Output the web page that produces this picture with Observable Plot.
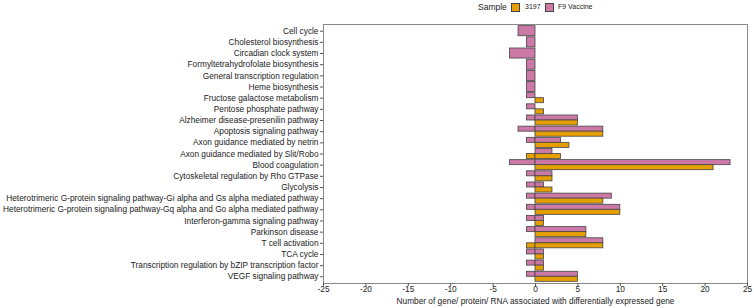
<!DOCTYPE html>
<html>
<head>
<meta charset="utf-8">
<script src="https://cdn.jsdelivr.net/npm/d3@7"></script>
<script src="https://cdn.jsdelivr.net/npm/@observablehq/plot@0.6"></script>
<style>
  html, body { margin: 0; padding: 0; background: #fff; }
  body { font-family: "Liberation Sans", Arial, sans-serif; color: #222; width: 754px; }
  #legend { position: relative; height: 20px; width: 754px; }
  #legend span { position: absolute; white-space: nowrap; }
  #legend .sw { width: 7px; height: 7px; border: 1px solid #444; top: 3px; }
</style>
</head>
<body>
<div id="legend"></div>
<div id="chart"></div>
<script>
// Pathways, top to bottom
const pathways = [
  "Cell cycle",
  "Cholesterol biosynthesis",
  "Circadian clock system",
  "Formyltetrahydrofolate biosynthesis",
  "General transcription regulation",
  "Heme biosynthesis",
  "Fructose galactose metabolism",
  "Pentose phosphate pathway",
  "Alzheimer disease-presenilin pathway",
  "Apoptosis signaling pathway",
  "Axon guidance mediated by netrin",
  "Axon guidance mediated by Slit/Robo",
  "Blood coagulation",
  "Cytoskeletal regulation by Rho GTPase",
  "Glycolysis",
  "Heterotrimeric G-protein signaling pathway-Gi alpha and Gs alpha mediated pathway",
  "Heterotrimeric G-protein signaling pathway-Gq alpha and Go alpha mediated pathway",
  "Interferon-gamma signaling pathway",
  "Parkinson disease",
  "T cell activation",
  "TCA cycle",
  "Transcription regulation by bZIP transcription factor",
  "VEGF signaling pathway"
];

// Gene counts per pathway: negative = down, positive = up
const f9Down    = [-2, -1, -3, -1, -1, -1, -1, -1, -1, -2, -1,  0, -3, -1, -1, -1, -1, -1, -1,  0, -1, -1, -1];
const f9Up      = [ 0,  0,  0,  0,  0,  0,  0,  0,  5,  8,  3,  2, 23,  2,  1,  9, 10,  1,  6,  8,  1,  1,  5];
const s3197Down = [ 0,  0,  0,  0,  0,  0,  0,  0,  0,  0,  0, -1,  0,  0,  0,  0,  0,  0,  0, -1,  0,  0,  0];
const s3197Up   = [ 0,  0,  0,  0,  0,  0,  1,  1,  5,  8,  4,  3, 21,  2,  2,  8, 10,  1,  6,  8,  1,  1,  5];

const samples = ["3197", "F9 Vaccine"];
const sampleColors = ["#E69F00", "#CC79A7"];
const xTicks = [-25, -20, -15, -10, -5, 0, 5, 10, 15, 20, 25];

// Build bar rows; dodge the two samples only when both occur in a pathway
const rows = [];
pathways.forEach((p, i) => {
  const f9 = [f9Down[i], f9Up[i]].filter(v => v !== 0);
  const s = [s3197Down[i], s3197Up[i]].filter(v => v !== 0);
  const both = f9.length > 0 && s.length > 0;
  const half = 0.45;
  f9.forEach(v => rows.push({i, sample: "F9 Vaccine", v, y1: i - half, y2: both ? i : i + half}));
  s.forEach(v => rows.push({i, sample: "3197", v, y1: both ? i : i - half, y2: i + half}));
});

// Legend
const legend = document.getElementById("legend");
legend.innerHTML = `
  <span style="left:478px;top:2px;font-size:8.5px;">Sample</span>
  <span class="sw" style="left:511px;background:${sampleColors[0]}"></span>
  <span style="left:525px;top:3px;font-size:7px;">${samples[0]}</span>
  <span class="sw" style="left:545px;background:${sampleColors[1]}"></span>
  <span style="left:558px;top:3px;font-size:7px;">${samples[1]}</span>`;

const chart = Plot.plot({
  width: 754,
  height: 288,
  marginLeft: 323,
  marginRight: 7,
  marginTop: 4,
  marginBottom: 25,
  style: {fontFamily: "Liberation Sans, Arial, sans-serif", fontSize: "8.3px", color: "#222"},
  x: {domain: [-25, 25]},
  y: {domain: [-0.6, pathways.length - 0.4], reverse: true},
  color: {domain: samples, range: sampleColors},
  marks: [
    Plot.rect(rows, {
      x1: 0, x2: "v", y1: "y1", y2: "y2",
      fill: "sample", stroke: "#444", strokeWidth: 0.8
    }),
    Plot.frame({stroke: "#888", strokeWidth: 1}),
    Plot.axisY({
      ticks: d3.range(pathways.length),
      tickFormat: i => pathways[i],
      tickSize: 3, tickPadding: 2, stroke: "#555", label: null, fontSize: 8.3
    }),
    Plot.axisX({
      ticks: xTicks, tickFormat: d => d,
      tickSize: 3, tickPadding: 0, stroke: "#555", fontSize: 8.3,
      label: "Number of gene/ protein/ RNA associated with differentially expressed gene",
      labelAnchor: "center", labelArrow: "none", labelOffset: 20
    })
  ]
});
document.getElementById("chart").appendChild(chart);
</script>
</body>
</html>
